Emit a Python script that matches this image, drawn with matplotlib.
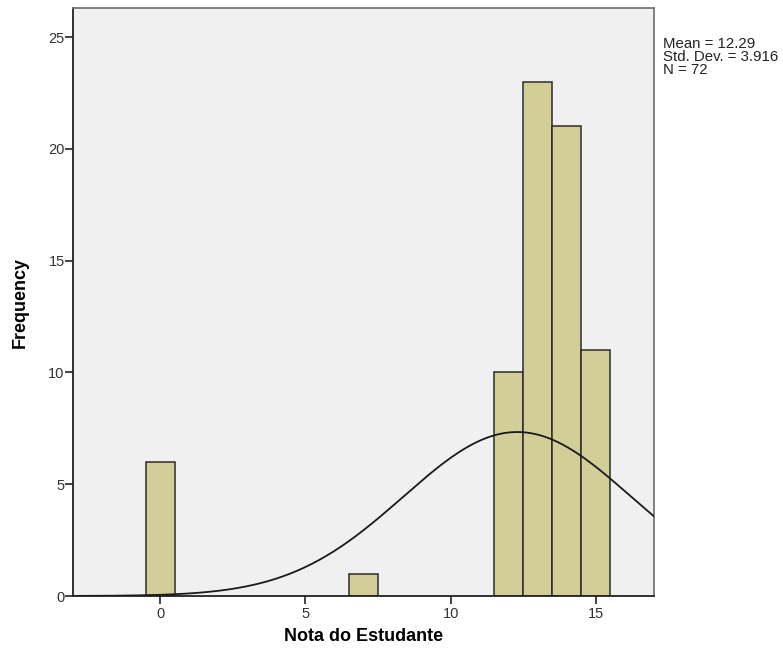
import numpy as np
import matplotlib.pyplot as plt

# student scores (integer grades) and how many students got each
scores = [0, 7, 12, 13, 14, 15]
counts = [6, 1, 10, 23, 21, 11]

values = np.repeat(scores, counts)
mean = values.mean()
sd = values.std(ddof=1)
n = len(values)

plt.rcParams['font.family'] = ['Liberation Sans', 'DejaVu Sans']

fig = plt.figure(figsize=(7.83, 6.56), dpi=100)
ax = fig.add_axes([73 / 783, 60 / 656, 581 / 783, 588 / 656])
ax.set_facecolor('#f0f0f0')

ax.bar(scores, counts, width=1.0, color='#d3ce98', edgecolor='#2b2b2b',
       linewidth=1.1, zorder=2)

# fitted normal curve (bin width 1)
xs = np.linspace(-3, 17, 400)
ys = n / (sd * np.sqrt(2 * np.pi)) * np.exp(-0.5 * ((xs - mean) / sd) ** 2)
ax.plot(xs, ys, color='#1a1a1a', linewidth=1.3, zorder=3)

ax.set_xlim(-3, 17)
ax.set_ylim(0, 26.3)
ax.set_xticks([0, 5, 10, 15])
ax.set_yticks([0, 5, 10, 15, 20, 25])
ax.tick_params(direction='out', length=6, width=1.2, labelsize=10.5,
               labelcolor='#333333', color='#222222')
ax.tick_params(axis='y', pad=0)
ax.tick_params(axis='x', pad=2)

for side in ['left', 'bottom']:
    ax.spines[side].set_color('#222222')
    ax.spines[side].set_linewidth(1.3)
for side in ['top', 'right']:
    ax.spines[side].set_color('#777777')
    ax.spines[side].set_linewidth(1.3)

ax.set_xlabel('Nota do Estudante', fontsize=13, fontweight='bold', labelpad=5)
ax.set_ylabel('Frequency', fontsize=13, fontweight='bold', labelpad=14)

fig.text(663 / 783, 1 - 37 / 656,
         'Mean = %.2f\nStd. Dev. = %.3f\nN = %d' % (mean, sd, n),
         fontsize=10.8, color='#222222', va='top', ha='left', linespacing=0.92)

plt.savefig('out.png', dpi=100)
